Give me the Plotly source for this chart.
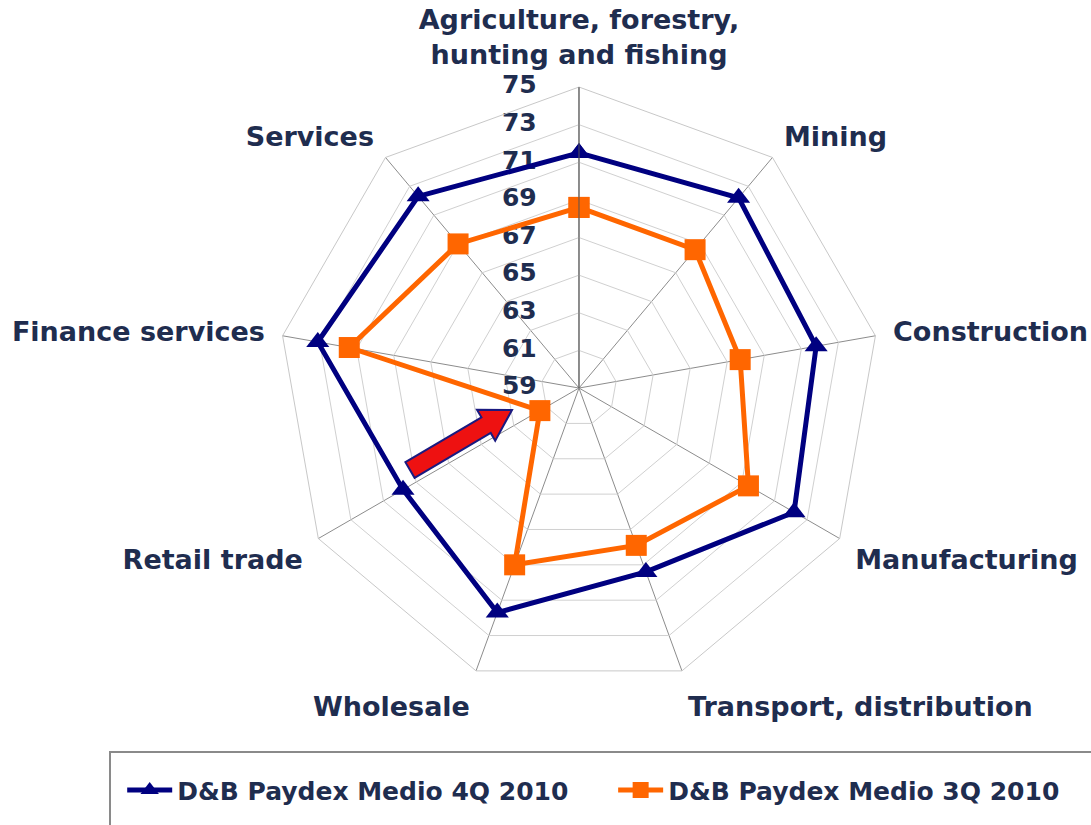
import plotly.graph_objects as go

categories = [
    "Agriculture, forestry,<br>hunting and fishing",
    "Mining",
    "Construction",
    "Manufacturing",
    "Transport, distribution",
    "Wholesale",
    "Retail trade",
    "Finance services",
    "Services",
]
paydex_4q = [71.5, 72.2, 71.8, 72.2, 69.4, 71.7, 69.8, 73.1, 72.3]
paydex_3q = [68.6, 68.6, 67.7, 69.4, 67.9, 69.0, 61.4, 71.4, 69.0]
series_names = ["D&B Paydex Medio 4Q 2010", "D&B Paydex Medio 3Q 2010"]
radial_ticks = list(range(59, 76, 2))
radial_tick_labels = [str(v) for v in radial_ticks]

W, H = 1091, 825
TEXT = "#1F2D4F"
FONT = "DejaVu Sans"
FS = 27
bold = dict(family=FONT, color=TEXT, weight="bold")

fig = go.Figure()
# radial value labels, drawn along the top spoke through the polar scale
fig.add_trace(go.Scatterpolar(
    r=radial_ticks, theta=[categories[0]] * len(radial_ticks),
    mode="markers+text", text=radial_tick_labels, textposition="middle left",
    textfont=dict(size=25, **bold),
    marker=dict(size=66, color="rgba(0,0,0,0)"),
    showlegend=False, hoverinfo="skip", cliponaxis=False,
))
fig.add_trace(go.Scatterpolar(
    r=paydex_4q + paydex_4q[:1], theta=categories + categories[:1],
    mode="lines+markers", name=series_names[0],
    line=dict(color="#000080", width=5),
    marker=dict(symbol="triangle-up", size=20, color="#000080"),
    legend="legend", showlegend=True,
))
fig.add_trace(go.Scatterpolar(
    r=paydex_3q + paydex_3q[:1], theta=categories + categories[:1],
    mode="lines+markers", name=series_names[1],
    line=dict(color="#FF6600", width=5),
    marker=dict(symbol="square", size=21, color="#FF6600"),
    legend="legend2", showlegend=True,
))

def px(x, y):
    return x / W, 1 - y / H

# decorative red block arrow (pixel outline -> paper coords)
arrow_px = [(414.6, 477.8), (490.7, 433.0), (495.2, 440.7), (512, 410),
            (477.0, 409.7), (481.5, 417.4), (405.4, 462.2)]
pts = [px(x, y) for x, y in arrow_px]
path = "M " + " L ".join(f"{a:.4f},{b:.4f}" for a, b in pts) + " Z"

lx0, ly0 = px(110, 752)
legend_font = dict(size=25, **bold)
fig.update_layout(
    width=W, height=H,
    margin=dict(l=0, r=0, t=0, b=0, autoexpand=False),
    showlegend=True,
    paper_bgcolor="white", plot_bgcolor="white",
    font=dict(size=FS, **bold),
    polar=dict(
        domain=dict(x=[0.2548, 0.8066], y=[0.1648, 0.8945]),
        gridshape="linear",
        bgcolor="white",
        angularaxis=dict(
            direction="clockwise", rotation=90,
            showline=True, linecolor="#C8C8C8", linewidth=1,
            gridcolor="#8C8C8C", gridwidth=1,
            ticks="outside", ticklen=12, tickcolor="rgba(0,0,0,0)",
            tickfont=dict(size=FS, **bold),
        ),
        radialaxis=dict(
            range=[58.999, 75], tickvals=radial_ticks, angle=90,
            showticklabels=False, ticks="",
            showline=True, linecolor="#555555", linewidth=1,
            gridcolor="#D0D0D0", gridwidth=1,
        ),
    ),
    legend=dict(orientation="h", x=0.112, y=0.042, xanchor="left", yanchor="middle",
                itemwidth=45, bgcolor="rgba(0,0,0,0)", font=legend_font),
    legend2=dict(orientation="h", x=0.562, y=0.042, xanchor="left", yanchor="middle",
                 itemwidth=45, bgcolor="rgba(0,0,0,0)", font=legend_font),
    shapes=[
        dict(type="rect", xref="paper", yref="paper", x0=lx0, y0=-0.05, x1=1.05, y1=ly0,
             line=dict(color="#8A8A8A", width=2), fillcolor="rgba(0,0,0,0)", layer="below"),
        dict(type="path", xref="paper", yref="paper", path=path,
             fillcolor="#EE1111", line=dict(color="#1A1A80", width=2)),
    ],
)

fig.write_html("out.html")
